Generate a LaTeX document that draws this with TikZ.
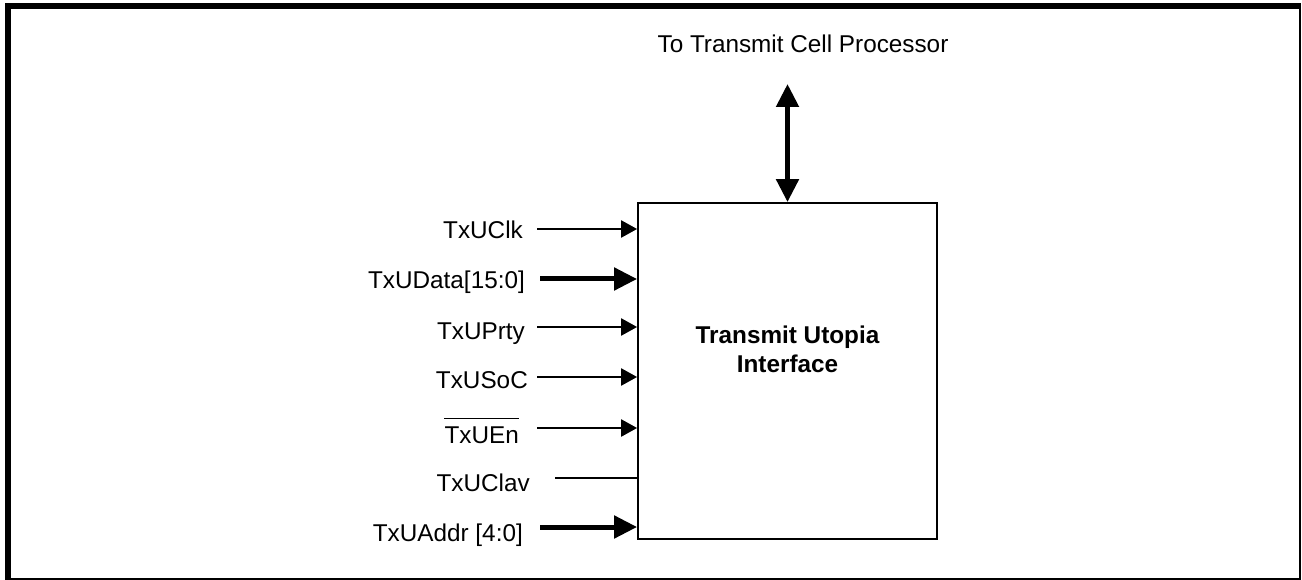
\documentclass[tikz,border=0pt]{standalone}
\usepackage{fontspec}
\setmainfont{Liberation Sans}
\usetikzlibrary{arrows.meta}
\tikzset{
  lbl/.style={inner sep=0pt, anchor=base east, font=\fontsize{24.3}{29}\selectfont},
  thinarr/.style={line width=2.4pt, -{Triangle[length=16pt,width=17pt]}},
  thickarr/.style={line width=5pt, -{Triangle[length=23pt,width=22pt]}},
  plainline/.style={line width=2.2pt},
}
\begin{document}
\begin{tikzpicture}[x=1pt,y=-1pt]
\useasboundingbox (0,0) rectangle (1302,580);
% frame
\fill[black] (5,3) rectangle (11,580);
\fill[black] (5,3) rectangle (1301,9);
\draw[line width=1.5pt] (1300,3) -- (1300,580);
\draw[line width=1.5pt] (5,579) -- (1301,579);
% main box
\node[draw, line width=1.8pt, minimum width=299pt, minimum height=336pt, inner sep=0pt] (box) at (787.5,371) {};
\node[inner sep=0pt, anchor=base, align=center, font=\fontsize{24.3}{29}\selectfont\bfseries] (title) at (787.5,372) {Transmit Utopia\\Interface};
% top
\node[lbl, anchor=base] (top) at (803,53) {To Transmit Cell Processor};
\coordinate (tp) at (787.5,84);
\draw[line width=5pt, {Triangle[length=23pt,width=22pt]}-{Triangle[length=23pt,width=22pt]}] (tp) -- (box.north);
% labels
\node[lbl] (l1) at (523,238.5) {TxUClk};
\node[lbl] (l2) at (525,288) {TxUData[15:0]};
\node[lbl] (l3) at (525,339) {TxUPrty};
\node[lbl] (l4) at (528,388) {TxUSoC};
\node[lbl] (l5) at (519,443) {TxUEn};
\draw[line width=1pt] ([yshift=8pt]l5.north west) -- ([yshift=8pt]l5.north east);
\node[lbl] (l6) at (530,491) {TxUClav};
\node[lbl] (l7) at (523,541) {TxUAddr [4:0]};
% connectors
\coordinate (s1) at (537,229);
\coordinate (s2) at (540,279);
\coordinate (s3) at (537,327);
\coordinate (s4) at (537,377);
\coordinate (s5) at (537,428);
\coordinate (s6) at (555,478);
\coordinate (s7) at (540,527);
\draw[thinarr] (s1) -- (s1 -| box.west);
\draw[thickarr] (s2) -- (s2 -| box.west);
\draw[thinarr] (s3) -- (s3 -| box.west);
\draw[thinarr] (s4) -- (s4 -| box.west);
\draw[thinarr] (s5) -- (s5 -| box.west);
\draw[plainline] (s6) -- (s6 -| box.west);
\draw[thickarr] (s7) -- (s7 -| box.west);
\end{tikzpicture}
\end{document}
